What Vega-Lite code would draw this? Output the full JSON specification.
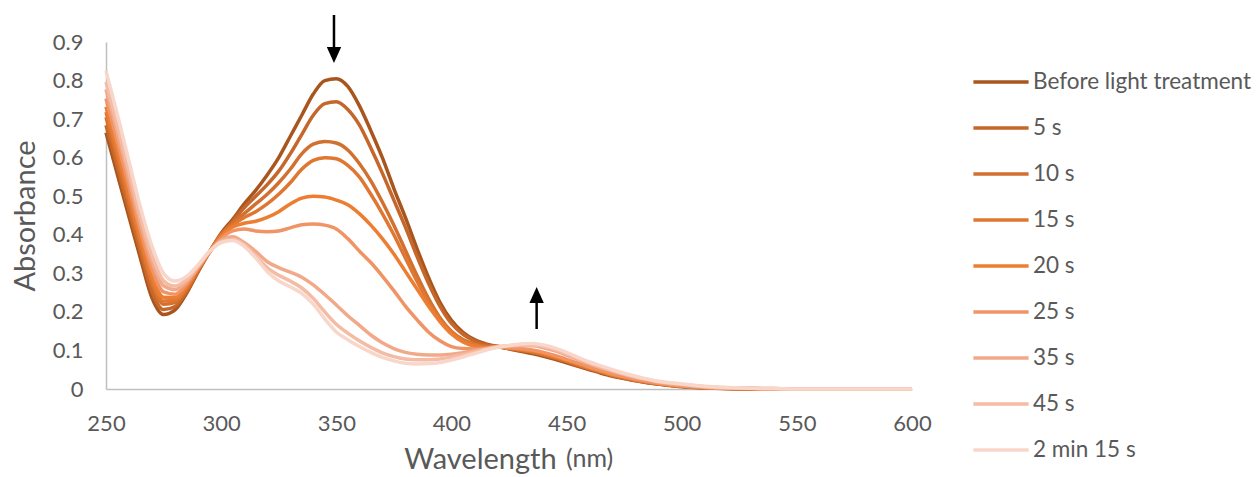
{
  "$schema": "https://vega.github.io/schema/vega-lite/v6.json",
  "width": 806,
  "height": 347,
  "autosize": "none",
  "padding": {"left": 106, "top": 42, "right": 346, "bottom": 88},
  "background": "white",
  "config": {"view": {"stroke": null}, "font": "Lato", "axis": {"labelOverlap": false}, "axisY": {"labelOverlap": false}},
  "datasets": {
    "spectra": [
      {"nm":250,"b":0.665,"t5":0.684,"t10":0.705,"t15":0.718,"t20":0.732,"t25":0.753,"t35":0.777,"t45":0.796,"t135":0.825},
      {"nm":255,"b":0.555,"t5":0.574,"t10":0.594,"t15":0.606,"t20":0.620,"t25":0.640,"t35":0.664,"t45":0.682,"t135":0.710},
      {"nm":260,"b":0.446,"t5":0.463,"t10":0.482,"t15":0.494,"t20":0.506,"t25":0.525,"t35":0.547,"t45":0.564,"t135":0.590},
      {"nm":265,"b":0.338,"t5":0.354,"t10":0.371,"t15":0.382,"t20":0.393,"t25":0.411,"t35":0.430,"t45":0.446,"t135":0.470},
      {"nm":270,"b":0.236,"t5":0.252,"t10":0.270,"t15":0.280,"t20":0.292,"t25":0.310,"t35":0.330,"t45":0.346,"t135":0.370},
      {"nm":275,"b":0.193,"t5":0.206,"t10":0.220,"t15":0.228,"t20":0.238,"t25":0.252,"t35":0.268,"t45":0.281,"t135":0.300},
      {"nm":280,"b":0.205,"t5":0.214,"t10":0.224,"t15":0.230,"t20":0.237,"t25":0.246,"t35":0.258,"t45":0.267,"t135":0.280},
      {"nm":285,"b":0.248,"t5":0.253,"t10":0.259,"t15":0.263,"t20":0.266,"t25":0.272,"t35":0.279,"t45":0.284,"t135":0.292},
      {"nm":290,"b":0.304,"t5":0.306,"t10":0.309,"t15":0.310,"t20":0.312,"t25":0.314,"t35":0.317,"t45":0.319,"t135":0.322},
      {"nm":295,"b":0.356,"t5":0.356,"t10":0.356,"t15":0.356,"t20":0.356,"t25":0.356,"t35":0.356,"t45":0.357,"t135":0.357},
      {"nm":300,"b":0.404,"t5":0.400,"t10":0.400,"t15":0.400,"t20":0.395,"t25":0.390,"t35":0.385,"t45":0.382,"t135":0.380},
      {"nm":305,"b":0.440,"t5":0.435,"t10":0.430,"t15":0.425,"t20":0.420,"t25":0.410,"t35":0.395,"t45":0.388,"t135":0.385},
      {"nm":310,"b":0.480,"t5":0.470,"t10":0.455,"t15":0.445,"t20":0.430,"t25":0.415,"t35":0.380,"t45":0.375,"t135":0.370},
      {"nm":315,"b":0.515,"t5":0.500,"t10":0.480,"t15":0.460,"t20":0.435,"t25":0.410,"t35":0.357,"t45":0.345,"t135":0.340},
      {"nm":320,"b":0.555,"t5":0.530,"t10":0.505,"t15":0.480,"t20":0.445,"t25":0.408,"t35":0.330,"t45":0.315,"t135":0.305},
      {"nm":325,"b":0.600,"t5":0.565,"t10":0.535,"t15":0.505,"t20":0.460,"t25":0.410,"t35":0.315,"t45":0.295,"t135":0.280},
      {"nm":330,"b":0.655,"t5":0.610,"t10":0.570,"t15":0.535,"t20":0.480,"t25":0.418,"t35":0.303,"t45":0.280,"t135":0.265},
      {"nm":335,"b":0.710,"t5":0.660,"t10":0.610,"t15":0.570,"t20":0.495,"t25":0.426,"t35":0.290,"t45":0.262,"t135":0.248},
      {"nm":340,"b":0.765,"t5":0.710,"t10":0.635,"t15":0.593,"t20":0.500,"t25":0.428,"t35":0.270,"t45":0.235,"t135":0.220},
      {"nm":345,"b":0.800,"t5":0.740,"t10":0.642,"t15":0.600,"t20":0.498,"t25":0.425,"t35":0.245,"t45":0.200,"t135":0.182},
      {"nm":350,"b":0.805,"t5":0.745,"t10":0.638,"t15":0.597,"t20":0.490,"t25":0.415,"t35":0.218,"t45":0.168,"t135":0.148},
      {"nm":355,"b":0.785,"t5":0.725,"t10":0.620,"t15":0.580,"t20":0.478,"t25":0.390,"t35":0.190,"t45":0.145,"t135":0.128},
      {"nm":360,"b":0.735,"t5":0.685,"t10":0.585,"t15":0.550,"t20":0.455,"t25":0.358,"t35":0.165,"t45":0.125,"t135":0.110},
      {"nm":365,"b":0.670,"t5":0.625,"t10":0.540,"t15":0.505,"t20":0.425,"t25":0.328,"t35":0.140,"t45":0.108,"t135":0.095},
      {"nm":370,"b":0.600,"t5":0.560,"t10":0.485,"t15":0.455,"t20":0.390,"t25":0.293,"t35":0.120,"t45":0.094,"t135":0.082},
      {"nm":375,"b":0.520,"t5":0.490,"t10":0.425,"t15":0.400,"t20":0.350,"t25":0.255,"t35":0.105,"t45":0.084,"t135":0.073},
      {"nm":380,"b":0.445,"t5":0.420,"t10":0.360,"t15":0.340,"t20":0.305,"t25":0.215,"t35":0.095,"t45":0.078,"t135":0.067},
      {"nm":385,"b":0.365,"t5":0.345,"t10":0.295,"t15":0.280,"t20":0.260,"t25":0.180,"t35":0.090,"t45":0.076,"t135":0.065},
      {"nm":390,"b":0.290,"t5":0.275,"t10":0.235,"t15":0.225,"t20":0.215,"t25":0.148,"t35":0.088,"t45":0.076,"t135":0.066},
      {"nm":395,"b":0.225,"t5":0.215,"t10":0.185,"t15":0.180,"t20":0.175,"t25":0.125,"t35":0.088,"t45":0.078,"t135":0.069},
      {"nm":400,"b":0.178,"t5":0.170,"t10":0.150,"t15":0.147,"t20":0.143,"t25":0.110,"t35":0.090,"t45":0.083,"t135":0.075},
      {"nm":405,"b":0.147,"t5":0.142,"t10":0.128,"t15":0.126,"t20":0.122,"t25":0.105,"t35":0.094,"t45":0.089,"t135":0.083},
      {"nm":410,"b":0.128,"t5":0.125,"t10":0.117,"t15":0.115,"t20":0.111,"t25":0.104,"t35":0.100,"t45":0.096,"t135":0.092},
      {"nm":415,"b":0.117,"t5":0.115,"t10":0.111,"t15":0.109,"t20":0.107,"t25":0.104,"t35":0.105,"t45":0.103,"t135":0.101},
      {"nm":420,"b":0.110,"t5":0.110,"t10":0.110,"t15":0.110,"t20":0.110,"t25":0.109,"t35":0.110,"t45":0.109,"t135":0.108},
      {"nm":425,"b":0.104,"t5":0.105,"t10":0.105,"t15":0.106,"t20":0.106,"t25":0.107,"t35":0.111,"t45":0.112,"t135":0.113},
      {"nm":430,"b":0.098,"t5":0.100,"t10":0.101,"t15":0.102,"t20":0.103,"t25":0.105,"t35":0.112,"t45":0.114,"t135":0.117},
      {"nm":435,"b":0.092,"t5":0.095,"t10":0.096,"t15":0.097,"t20":0.099,"t25":0.101,"t35":0.112,"t45":0.114,"t135":0.118},
      {"nm":440,"b":0.085,"t5":0.088,"t10":0.089,"t15":0.091,"t20":0.092,"t25":0.095,"t35":0.107,"t45":0.110,"t135":0.114},
      {"nm":445,"b":0.077,"t5":0.080,"t10":0.081,"t15":0.083,"t20":0.084,"t25":0.087,"t35":0.099,"t45":0.102,"t135":0.106},
      {"nm":450,"b":0.068,"t5":0.071,"t10":0.072,"t15":0.073,"t20":0.075,"t25":0.077,"t35":0.088,"t45":0.091,"t135":0.095},
      {"nm":455,"b":0.059,"t5":0.061,"t10":0.062,"t15":0.064,"t20":0.065,"t25":0.067,"t35":0.076,"t45":0.079,"t135":0.082},
      {"nm":460,"b":0.050,"t5":0.052,"t10":0.053,"t15":0.054,"t20":0.055,"t25":0.057,"t35":0.065,"t45":0.067,"t135":0.070},
      {"nm":465,"b":0.041,"t5":0.043,"t10":0.044,"t15":0.045,"t20":0.046,"t25":0.048,"t35":0.055,"t45":0.057,"t135":0.060},
      {"nm":470,"b":0.033,"t5":0.035,"t10":0.036,"t15":0.036,"t20":0.037,"t25":0.039,"t35":0.046,"t45":0.047,"t135":0.050},
      {"nm":475,"b":0.027,"t5":0.028,"t10":0.029,"t15":0.030,"t20":0.031,"t25":0.032,"t35":0.038,"t45":0.039,"t135":0.041},
      {"nm":480,"b":0.021,"t5":0.022,"t10":0.023,"t15":0.023,"t20":0.024,"t25":0.025,"t35":0.030,"t45":0.031,"t135":0.033},
      {"nm":485,"b":0.016,"t5":0.017,"t10":0.018,"t15":0.018,"t20":0.019,"t25":0.020,"t35":0.024,"t45":0.025,"t135":0.026},
      {"nm":490,"b":0.012,"t5":0.013,"t10":0.013,"t15":0.014,"t20":0.014,"t25":0.015,"t35":0.018,"t45":0.019,"t135":0.020},
      {"nm":495,"b":0.009,"t5":0.010,"t10":0.010,"t15":0.010,"t20":0.011,"t25":0.011,"t35":0.014,"t45":0.015,"t135":0.016},
      {"nm":500,"b":0.006,"t5":0.007,"t10":0.007,"t15":0.007,"t20":0.008,"t25":0.008,"t35":0.011,"t45":0.012,"t135":0.013},
      {"nm":510,"b":0.003,"t5":0.003,"t10":0.003,"t15":0.004,"t20":0.004,"t25":0.004,"t35":0.006,"t45":0.006,"t135":0.007},
      {"nm":520,"b":0.001,"t5":0.001,"t10":0.001,"t15":0.002,"t20":0.002,"t25":0.002,"t35":0.003,"t45":0.003,"t135":0.004},
      {"nm":530,"b":0.000,"t5":0.000,"t10":0.000,"t15":0.001,"t20":0.001,"t25":0.001,"t35":0.002,"t45":0.002,"t135":0.002},
      {"nm":540,"b":0.000,"t5":0.000,"t10":0.000,"t15":0.000,"t20":0.000,"t25":0.000,"t35":0.001,"t45":0.001,"t135":0.001},
      {"nm":550,"b":0,"t5":0,"t10":0,"t15":0,"t20":0,"t25":0,"t35":0,"t45":0,"t135":0},
      {"nm":560,"b":0,"t5":0,"t10":0,"t15":0,"t20":0,"t25":0,"t35":0,"t45":0,"t135":0},
      {"nm":570,"b":0,"t5":0,"t10":0,"t15":0,"t20":0,"t25":0,"t35":0,"t45":0,"t135":0},
      {"nm":580,"b":0,"t5":0,"t10":0,"t15":0,"t20":0,"t25":0,"t35":0,"t45":0,"t135":0},
      {"nm":590,"b":0,"t5":0,"t10":0,"t15":0,"t20":0,"t25":0,"t35":0,"t45":0,"t135":0},
      {"nm":600,"b":0,"t5":0,"t10":0,"t15":0,"t20":0,"t25":0,"t35":0,"t45":0,"t135":0}
    ],
    "names": [
      {"key":"b","series":"Before light treatment"},
      {"key":"t5","series":"5 s"},
      {"key":"t10","series":"10 s"},
      {"key":"t15","series":"15 s"},
      {"key":"t20","series":"20 s"},
      {"key":"t25","series":"25 s"},
      {"key":"t35","series":"35 s"},
      {"key":"t45","series":"45 s"},
      {"key":"t135","series":"2 min 15 s"}
    ],
    "arrows": [
      {"nm":349,"A":0.97,"A2":0.866,"head":0.866,"dir":"down"},
      {"nm":437,"A":0.1556,"A2":0.244,"head":0.2438,"dir":"up"}
    ],
    "notes": [
      {"nm":460,"A":-0.202,"t":"(nm)"}
    ]
  },
  "layer": [
    {
      "data": {"name": "spectra"},
      "transform": [
        {"fold": ["b","t5","t10","t15","t20","t25","t35","t45","t135"], "as": ["key","A"]},
        {"lookup": "key", "from": {"data": {"name": "names"}, "key": "key", "fields": ["series"]}}
      ],
      "mark": {"type": "line", "strokeWidth": 3.5, "interpolate": "monotone"},
      "encoding": {
        "x": {
          "field": "nm", "type": "quantitative",
          "scale": {"domain": [250, 600], "nice": false, "zero": false},
          "axis": {
            "title": "Wavelength", "values": [250,300,350,400,450,500,550,600], "format": "d",
            "grid": false, "ticks": false, "domainColor": "#BFBFBF", "domainWidth": 1.5,
            "labelFontSize": 22, "labelColor": "#595959", "labelPadding": 24, "labelOverlap": false,
            "labelFlush": false,
            "titleFontSize": 29, "titleFontWeight": "normal", "titleColor": "#595959",
            "titleX": 374, "titleY": 79, "titleBaseline": "alphabetic", "titleAlign": "center"
          }
        },
        "y": {
          "field": "A", "type": "quantitative",
          "scale": {"domain": [0, 0.9], "nice": false},
          "axis": {
            "title": "Absorbance", "values": [0,0.1,0.2,0.3,0.4,0.5,0.6,0.7,0.8,0.9], "format": "~g",
            "tickCount": 10,
            "grid": false, "ticks": false, "domainColor": "#BFBFBF", "domainWidth": 1.5,
            "labelFontSize": 22, "labelColor": "#595959", "labelPadding": 23, "labelOverlap": false,
            "labelFlush": false,
            "titleFontSize": 29, "titleFontWeight": "normal", "titleColor": "#595959",
            "titleX": -72, "titleY": 173.5, "titleAngle": -90, "titleBaseline": "alphabetic", "titleAlign": "center"
          }
        },
        "color": {
          "field": "series", "type": "nominal",
          "scale": {
            "domain": ["Before light treatment","5 s","10 s","15 s","20 s","25 s","35 s","45 s","2 min 15 s"],
            "range": ["#A9561E","#C5662A","#D2702F","#DF7733","#ED7D31","#F09466","#F2A98A","#F4BBA5","#F8D6CA"]
          },
          "legend": {
            "orient": "none", "legendX": 870, "legendY": 15, "title": null,
            "symbolType": "M-1.2,0H1.2", "symbolSize": 2116, "symbolStrokeWidth": 3.5,
            "labelFontSize": 22.5, "labelColor": "#595959", "labelOffset": 7, "labelLimit": 400,
            "rowPadding": 9, "padding": 0
          }
        }
      }
    },
    {
      "data": {"name": "arrows"},
      "mark": {"type": "rule", "color": "black", "strokeWidth": 2.5},
      "encoding": {
        "x": {"field": "nm", "type": "quantitative"},
        "y": {"field": "A", "type": "quantitative"},
        "y2": {"field": "A2"}
      }
    },
    {
      "data": {"name": "arrows"},
      "mark": {"type": "point", "filled": true, "color": "black", "opacity": 1, "size": 256},
      "encoding": {
        "x": {"field": "nm", "type": "quantitative"},
        "y": {"field": "head", "type": "quantitative"},
        "shape": {
          "field": "dir", "type": "nominal",
          "scale": {"domain": ["down","up"], "range": ["M-0.9,-1L0.9,-1L0,1Z","M-0.9,1L0.9,1L0,-1Z"]},
          "legend": null
        }
      }
    },
    {
      "data": {"name": "notes"},
      "mark": {"type": "text", "fontSize": 25, "color": "#595959", "align": "center", "baseline": "alphabetic"},
      "encoding": {
        "x": {"field": "nm", "type": "quantitative"},
        "y": {"field": "A", "type": "quantitative"},
        "text": {"field": "t"}
      }
    }
  ]
}
